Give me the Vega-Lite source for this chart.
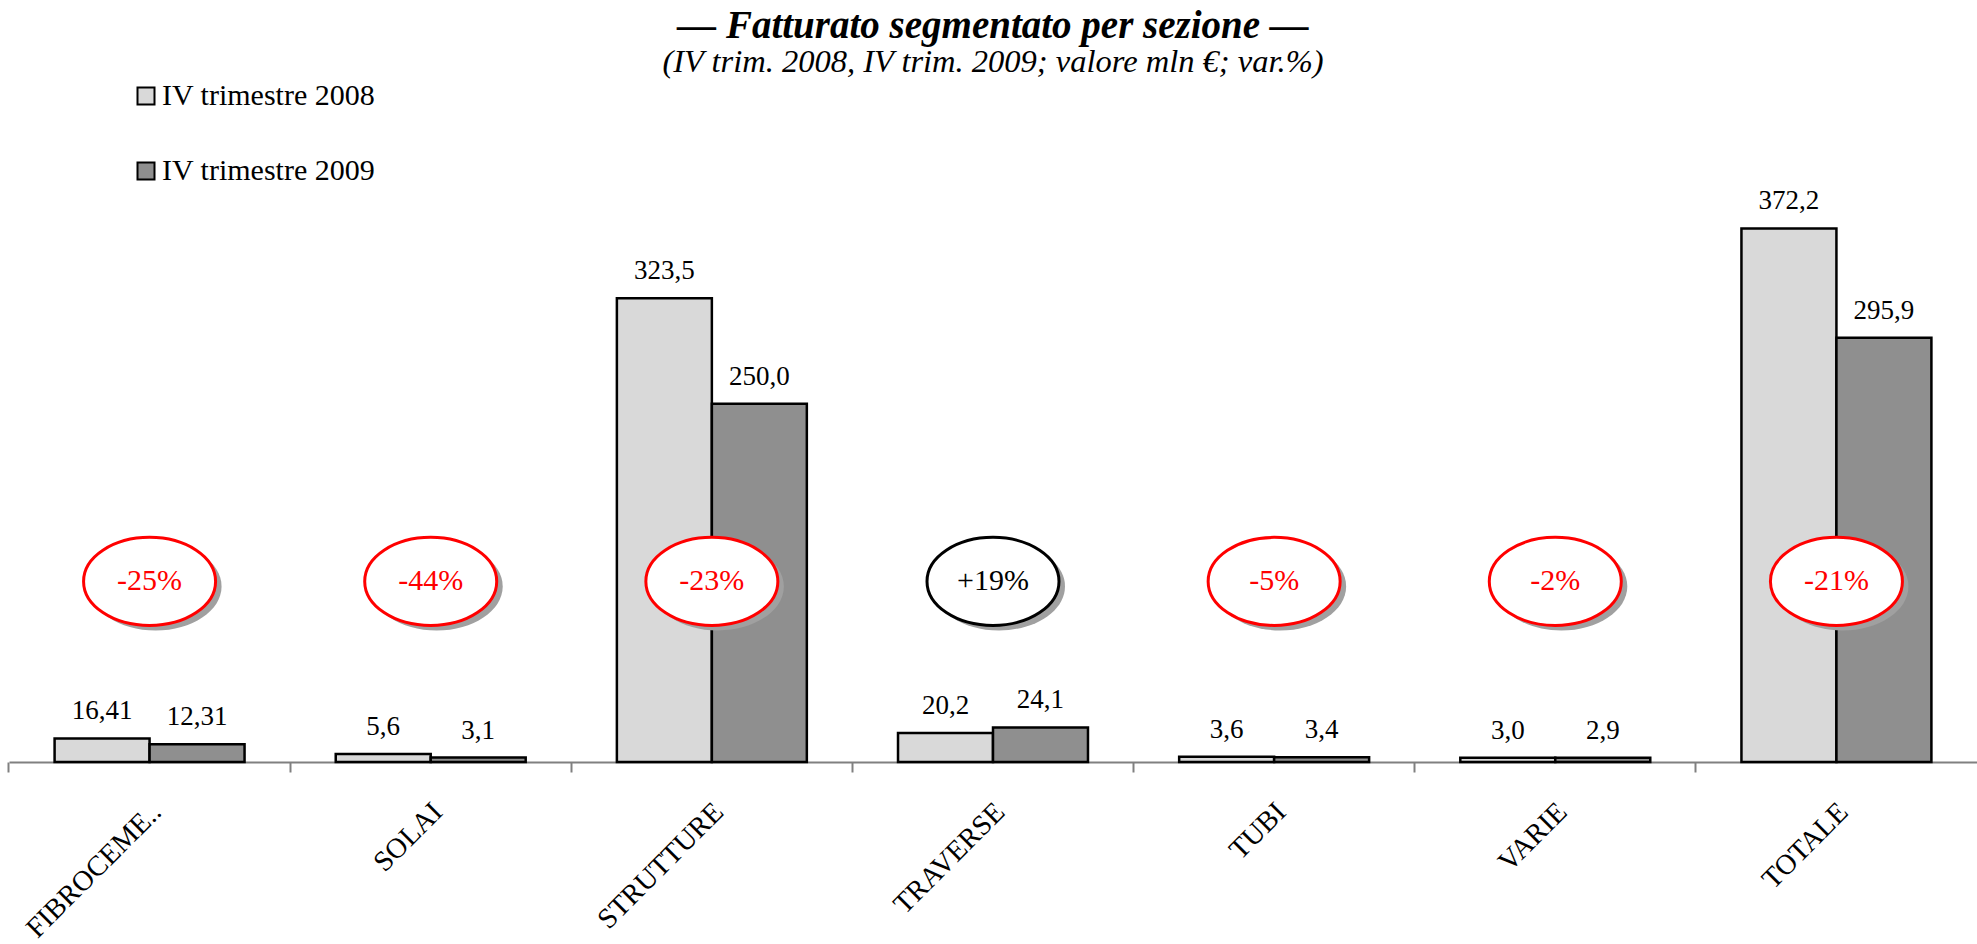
{
  "$schema": "https://vega.github.io/schema/vega-lite/v6.json",
  "width": 1968,
  "height": 672,
  "autosize": {"type": "none"},
  "padding": {"left": 9, "top": 90, "right": 0, "bottom": 182},
  "background": "white",
  "config": {"view": {"stroke": null}, "font": "Liberation Serif"},
  "title": {
    "text": "— Fatturato segmentato per sezione —",
    "subtitle": "(IV trim. 2008, IV trim. 2009; valore mln €; var.%)",
    "font": "Liberation Serif", "fontSize": 39, "fontStyle": "italic", "fontWeight": "bold", "color": "black",
    "subtitleFont": "Liberation Serif", "subtitleFontSize": 32.5, "subtitleFontStyle": "italic", "subtitleColor": "black",
    "anchor": "middle", "subtitlePadding": 0, "offset": 3
  },
  "datasets": {
    "sales": [
      {"cat": "FIBROCEME..", "period": "IV trimestre 2008", "value": 16.41, "label": "16,41"},
      {"cat": "FIBROCEME..", "period": "IV trimestre 2009", "value": 12.31, "label": "12,31"},
      {"cat": "SOLAI", "period": "IV trimestre 2008", "value": 5.6, "label": "5,6"},
      {"cat": "SOLAI", "period": "IV trimestre 2009", "value": 3.1, "label": "3,1"},
      {"cat": "STRUTTURE", "period": "IV trimestre 2008", "value": 323.5, "label": "323,5"},
      {"cat": "STRUTTURE", "period": "IV trimestre 2009", "value": 250.0, "label": "250,0"},
      {"cat": "TRAVERSE", "period": "IV trimestre 2008", "value": 20.2, "label": "20,2"},
      {"cat": "TRAVERSE", "period": "IV trimestre 2009", "value": 24.1, "label": "24,1"},
      {"cat": "TUBI", "period": "IV trimestre 2008", "value": 3.6, "label": "3,6"},
      {"cat": "TUBI", "period": "IV trimestre 2009", "value": 3.4, "label": "3,4"},
      {"cat": "VARIE", "period": "IV trimestre 2008", "value": 3.0, "label": "3,0"},
      {"cat": "VARIE", "period": "IV trimestre 2009", "value": 2.9, "label": "2,9"},
      {"cat": "TOTALE", "period": "IV trimestre 2008", "value": 372.2, "label": "372,2"},
      {"cat": "TOTALE", "period": "IV trimestre 2009", "value": 295.9, "label": "295,9"}
    ],
    "changes": [
      {"cat": "FIBROCEME..", "change": -25, "label": "-25%"},
      {"cat": "SOLAI", "change": -44, "label": "-44%"},
      {"cat": "STRUTTURE", "change": -23, "label": "-23%"},
      {"cat": "TRAVERSE", "change": 19, "label": "+19%"},
      {"cat": "TUBI", "change": -5, "label": "-5%"},
      {"cat": "VARIE", "change": -2, "label": "-2%"},
      {"cat": "TOTALE", "change": -21, "label": "-21%"}
    ]
  },
  "encoding": {
    "x": {
      "field": "cat", "type": "nominal",
      "scale": {"domain": ["FIBROCEME..", "SOLAI", "STRUTTURE", "TRAVERSE", "TUBI", "VARIE", "TOTALE"], "paddingInner": 0, "paddingOuter": 0},
      "axis": {
        "title": null, "domainColor": "#808080", "domainWidth": 2, "tickColor": "#808080", "tickWidth": 2, "tickSize": 10,
        "bandPosition": 0, "labelOffset": -3, "labelAngle": -45, "labelAlign": "right", "labelBaseline": "top",
        "labelPadding": 25, "labelFont": "Liberation Serif", "labelFontSize": 28.5, "labelColor": "black",
        "labelOverlap": false, "labelBound": false, "labelLimit": 400, "grid": false
      }
    }
  },
  "layer": [
    {
      "data": {"name": "sales"},
      "mark": {"type": "bar", "stroke": "black", "strokeWidth": 2.5},
      "encoding": {
        "xOffset": {"field": "period", "type": "nominal", "scale": {"paddingInner": 0, "paddingOuter": 0.48}},
        "y": {"field": "value", "type": "quantitative", "scale": {"domain": [0, 468.8], "nice": false}, "axis": null},
        "fill": {
          "field": "period", "type": "nominal",
          "scale": {"domain": ["IV trimestre 2008", "IV trimestre 2009"], "range": ["#D9D9D9", "#8F8F8F"]},
          "legend": {
            "orient": "none", "legendX": 122, "legendY": -9, "title": null, "direction": "vertical",
            "symbolType": "square", "symbolSize": 289, "symbolStrokeColor": "black", "symbolStrokeWidth": 2,
            "labelFont": "Liberation Serif", "labelFontSize": 30, "labelColor": "black", "labelOffset": 1,
            "labelLimit": 400, "rowPadding": 45, "padding": 0
          }
        }
      }
    },
    {
      "data": {"name": "sales"},
      "mark": {"type": "text", "baseline": "alphabetic", "dy": -19, "fontSize": 27, "font": "Liberation Serif", "color": "black"},
      "encoding": {
        "xOffset": {"field": "period", "type": "nominal"},
        "y": {"field": "value", "type": "quantitative"},
        "text": {"field": "label"}
      }
    },
    {
      "data": {"name": "changes"},
      "mark": {"type": "point", "filled": true, "color": "#A0A0A0", "opacity": 1, "size": 17424, "xOffset": 6, "yOffset": 5,
        "shape": "M-1,0C-1,-0.368 -0.552,-0.667 0,-0.667C0.552,-0.667 1,-0.368 1,0C1,0.368 0.552,0.667 0,0.667C-0.552,0.667 -1,0.368 -1,0Z"},
      "encoding": {"y": {"datum": 126, "type": "quantitative"}}
    },
    {
      "data": {"name": "changes"},
      "mark": {"type": "point", "filled": false, "fill": "white", "fillOpacity": 1, "opacity": 1, "strokeWidth": 3, "size": 17424,
        "shape": "M-1,0C-1,-0.368 -0.552,-0.667 0,-0.667C0.552,-0.667 1,-0.368 1,0C1,0.368 0.552,0.667 0,0.667C-0.552,0.667 -1,0.368 -1,0Z"},
      "encoding": {
        "y": {"datum": 126, "type": "quantitative"},
        "stroke": {"condition": {"test": "datum.change > 0", "value": "black"}, "value": "#FF0000"}
      }
    },
    {
      "data": {"name": "changes"},
      "mark": {"type": "text", "fontSize": 30, "font": "Liberation Serif", "align": "center", "baseline": "middle"},
      "encoding": {
        "y": {"datum": 126, "type": "quantitative"},
        "text": {"field": "label"},
        "color": {"condition": {"test": "datum.change > 0", "value": "black"}, "value": "#FF0000"}
      }
    }
  ]
}
